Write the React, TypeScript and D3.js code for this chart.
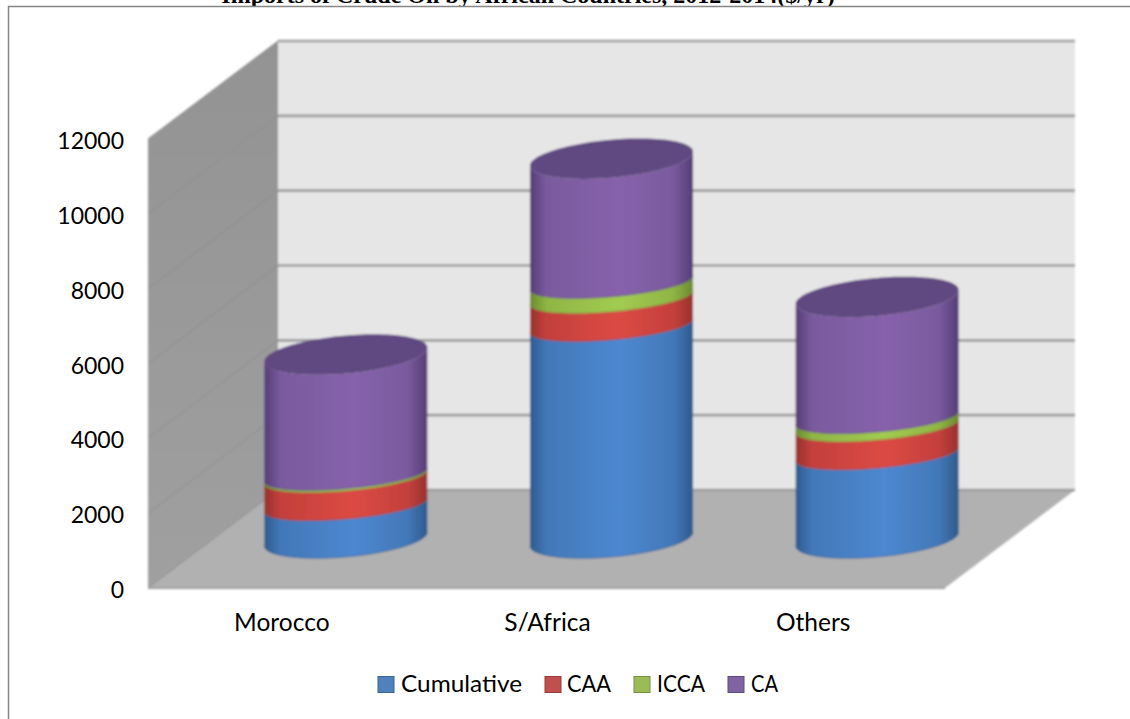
import React from "react";
import * as d3 from "d3";

const categories = ["Morocco", "S/Africa", "Others"];
const seriesNames = ["Cumulative", "CAA", "ICCA", "CA"];
const cumulative = [910, 5700, 2270];
const caa = [750, 750, 750];
const icca = [60, 400, 215];
const ca = [3210, 3315, 3235];
const allSeries = [cumulative, caa, icca, ca];
const yTicks = [0, 2000, 4000, 6000, 8000, 10000, 12000];
const legendColors = ["#4f81bd", "#c0504d", "#9bbb59", "#8064a2"];
const legendEdges = ["#3a6595", "#963e3b", "#78913f", "#604a7d"];
const colors = ["#4278b8", "#c4403c", "#8fb544", "#7a5a9e"];
const darks = ["#2f5a8c", "#96322f", "#6a8a30", "#553d76"];
const lights = ["#4d88d0", "#dc4a44", "#a2cc50", "#8762ab"];

const FX0 = 148, FX1 = 945, FY0 = 588, FY1 = 139, DX = 130, DY = 98;
const y = d3.scaleLinear().domain([0, 12000]).range([FY0, FY1]);
const x = d3.scaleBand().domain(categories).range([FX0, FX1]);
const RX = 81.5, TILT = 7;
const SAG_BASE = 18, SAG_INNER = 14, SAG_TOP = 19;

const line = d3.line<[number, number]>().x(d => d[0]).y(d => d[1]);
const ellipsePt = (cx: number, cy: number, sag: number, u: number): [number, number] => [
  cx + RX * Math.cos(u),
  cy - TILT * Math.cos(u) - sag * Math.sin(u),
];
const frontArc = (cx: number, cy: number, sag: number) =>
  d3.range(0, 61).map(i => ellipsePt(cx, cy, sag, -(i / 60) * Math.PI));
const fullEllipse = (cx: number, cy: number, sag: number) =>
  d3.range(0, 121).map(i => ellipsePt(cx, cy, sag, (i / 120) * 2 * Math.PI));

const FONT = "Lato, 'Open Sans', sans-serif";

export default function App() {
  const cols = categories.map((c, i) => {
    const cx = (x(c) as number) + x.bandwidth() / 2 + DX / 2;
    const off = -DY / 2;
    let acc = 0;
    const segs = allSeries.map((s, k) => {
      const y0 = y(acc) + off;
      const sag0 = acc === 0 ? SAG_BASE : SAG_INNER;
      acc += s[i];
      const y1 = y(acc) + off;
      const sag1 = k === allSeries.length - 1 ? SAG_TOP : SAG_INNER;
      const bot = frontArc(cx, y0, sag0);
      const top = frontArc(cx, y1, sag1).reverse();
      return { k, d: line([...bot, ...top]) + "Z", edge: line(bot) as string };
    });
    return { c, cx, segs, topY: y(acc) + off };
  });
  const backX0 = FX0 + DX, backX1 = FX1 + DX;
  const legendItems = [
    { x: 378, tx: 401, w: 121 },
    { x: 545, tx: 567, w: 44 },
    { x: 634, tx: 657, w: 48 },
    { x: 728, tx: 751, w: 27 },
  ];
  return (
    <svg width={1130} height={719} style={{ position: "absolute", left: 0, top: 0 }}>
      <defs>
        {colors.map((_, k) => (
          <linearGradient key={k} id={`g${k}`} x1="0" x2="1" y1="0" y2="0">
            <stop offset="0" stopColor={darks[k]} />
            <stop offset="0.1" stopColor={colors[k]} />
            <stop offset="0.55" stopColor={lights[k]} />
            <stop offset="0.88" stopColor={colors[k]} />
            <stop offset="1" stopColor={darks[k]} />
          </linearGradient>
        ))}
        <linearGradient id="wall" x1="0" x2="0" y1="0" y2="1">
          <stop offset="0" stopColor="#939393" />
          <stop offset="1" stopColor="#a0a0a0" />
        </linearGradient>
        <filter id="soft" x="-5%" y="-5%" width="110%" height="110%">
          <feGaussianBlur stdDeviation="0.8" />
        </filter>
      </defs>
      <rect x={0} y={0} width={1130} height={719} fill="#fff" />
      <text x={528} y={2.5} textAnchor="middle" fontFamily="'Liberation Serif', serif" fontWeight="bold" fontSize={24}>
        Imports of Crude Oil by African Countries, 2012-2014($/yr)
      </text>
      <rect x={0} y={6} width={1130} height={10} fill="#fff" />
      <path d="M8.5,719V6.5H1130" fill="none" stroke="#868686" strokeWidth={1.5} />
      <g filter="url(#soft)">
        <polygon points={`${backX0},${y(12000) - DY} ${backX1},${y(12000) - DY} ${backX1},${FY0 - DY} ${backX0},${FY0 - DY}`} fill="#e6e6e6" />
        <polygon points={`${FX0},${FY1} ${backX0},${FY1 - DY} ${backX0},${FY0 - DY} ${FX0},${FY0}`} fill="url(#wall)" />
        <polygon points={`${FX0},${FY0} ${FX1},${FY0} ${backX1},${FY0 - DY} ${backX0},${FY0 - DY}`} fill="#b1b1b1" />
        {yTicks.map(t => (
          <g key={t}>
            <line x1={FX0} x2={backX0} y1={y(t)} y2={y(t) - DY} stroke="#8d8d8d" strokeWidth={1} />
            <line x1={backX0} x2={backX1} y1={y(t) - DY} y2={y(t) - DY} stroke="#9c9c9c" strokeWidth={2.6} />
          </g>
        ))}
        <line x1={FX0} x2={FX1} y1={FY0} y2={FY0} stroke="#a0a0a0" strokeWidth={2} />
        {cols.map(col => (
          <g key={col.c}>
            {col.segs.map(s => (
              <g key={s.k}>
                <path d={s.d} fill={`url(#g${s.k})`} />
                <path d={s.edge} fill="none" stroke={darks[s.k]} strokeWidth={1} opacity={0.6} />
              </g>
            ))}
            <path d={(line(fullEllipse(col.cx, col.topY, SAG_TOP)) as string) + "Z"} fill="#5f4880" />
          </g>
        ))}
      </g>
      <g fontFamily={FONT} fontSize={23} fill="#000">
        {yTicks.map(t => (
          <text key={t} x={124} y={y(t) + 10} textAnchor="end">{t}</text>
        ))}
        {categories.map(c => (
          <text key={c} x={(x(c) as number) + x.bandwidth() / 2 + 1} y={631} textAnchor="middle" fontSize={24.5}>{c}</text>
        ))}
        {seriesNames.map((n, k) => (
          <g key={n}>
            <rect x={legendItems[k].x} y={676.5} width={16} height={16} fill={legendColors[k]} stroke={legendEdges[k]} strokeWidth={1} />
            <text x={legendItems[k].tx} y={692} textLength={legendItems[k].w} lengthAdjust="spacingAndGlyphs">{n}</text>
          </g>
        ))}
      </g>
    </svg>
  );
}
